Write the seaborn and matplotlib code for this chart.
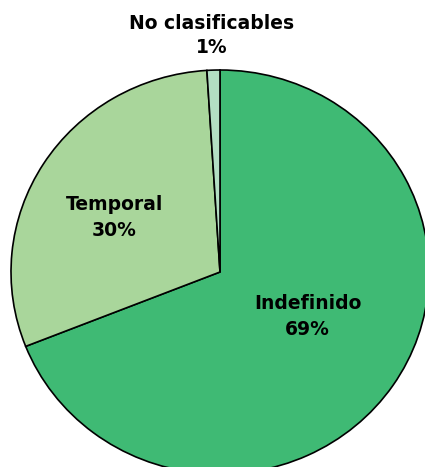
import matplotlib
matplotlib.use("Agg")
import matplotlib.pyplot as plt
import seaborn as sns

sns.set_theme(style="white")
plt.rcParams['font.family'] = ['DejaVu Sans']

# data
categorias = ['Indefinido', 'Temporal', 'No clasificables']
valores = [69, 30, 1]
colores = ['#3fba74', '#a9d69b', '#b3dfc3']

fig = plt.figure(figsize=(4.25, 4.67), dpi=100)
# pie slightly wider than tall, cropped at right and bottom like the original
ax = fig.add_axes([11/425, -7/467, 418/425, 404/467])
ax.pie(valores, colors=colores, startangle=90, counterclock=False,
       wedgeprops=dict(edgecolor='black', linewidth=1.2), radius=1)
ax.set_aspect('auto')
ax.set_xlim(-1, 1)
ax.set_ylim(-1, 1)
ax.axis('off')

# label positions (data coords)
pos = {'Indefinido': (0.42, -0.22), 'Temporal': (-0.505, 0.27),
       'No clasificables': (-0.04, 1.17)}
spacing = {'Indefinido': 1.45, 'Temporal': 1.45, 'No clasificables': 1.3}
for cat, val in zip(categorias, valores):
    x, y = pos[cat]
    ax.text(x, y, f"{cat}\n{val}%", ha='center', va='center',
            fontsize=13.5, fontweight='bold', linespacing=spacing[cat],
            color='black', clip_on=False)

fig.savefig('out.png', dpi=100)
